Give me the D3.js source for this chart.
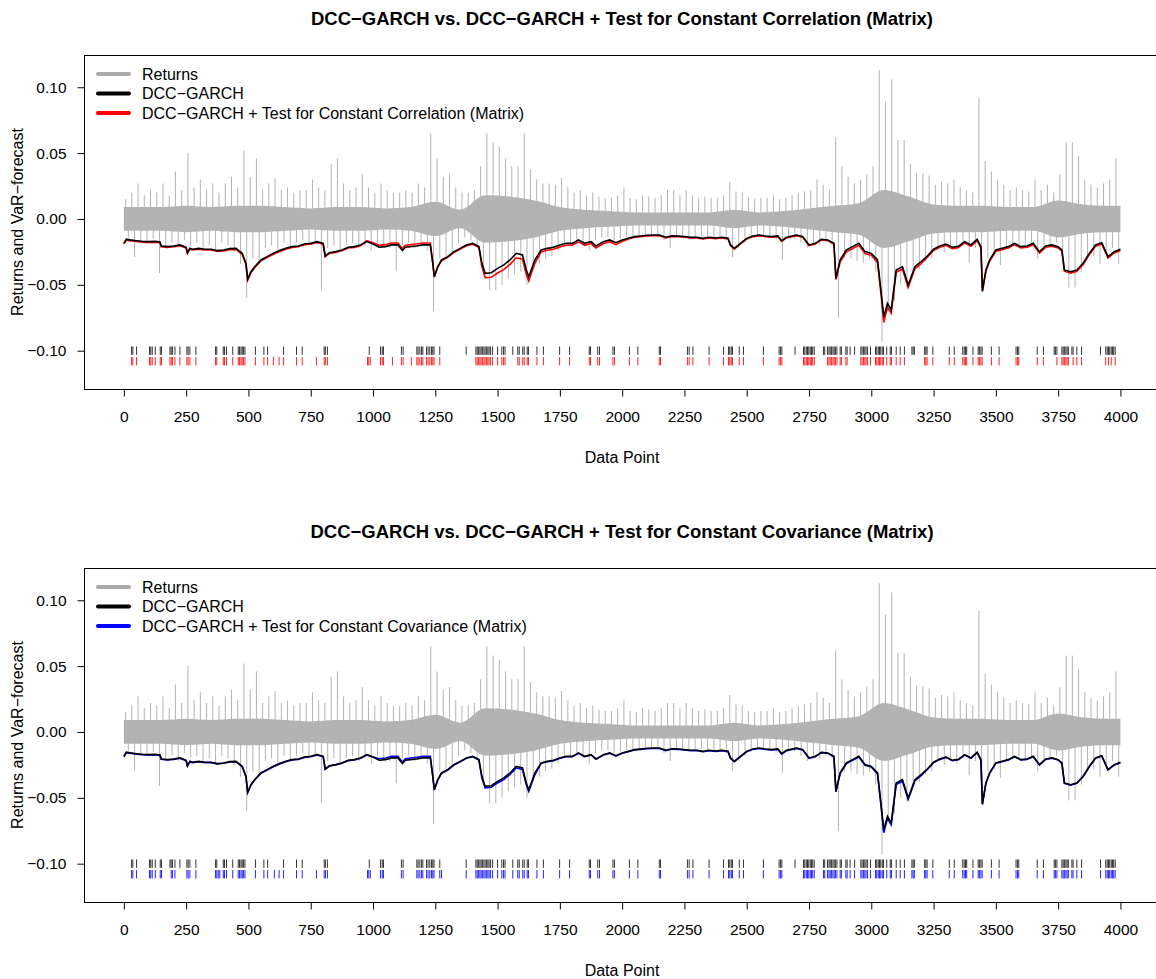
<!DOCTYPE html>
<html>
<head>
<meta charset="utf-8">
<script src="https://cdn.jsdelivr.net/npm/d3@7"></script>
<style>
  body { margin: 0; background: #fff; }
  svg { display: block; font-family: 'Liberation Sans', Arial, Helvetica, sans-serif; }
</style>
</head>
<body>
<svg id="chart" width="1156" height="979"></svg>
<script>
'use strict';

/* ── axis ticks ───────────────────────────────────────── */
const X_TICKS = [0,250,500,750,1000,1250,1500,1750,2000,2250,2500,2750,3000,3250,3500,3750,4000];
const Y_TICKS = [-0.10,-0.05,0.00,0.05,0.10];

/* ── returns: high / low per bin of 25 data points ────── */
const RET_BIN = 25;
const RET_HI = [
  .015,.020,.027,.018,.022,.020,.027,.018,.036,.022,
  .050,.024,.030,.022,.027,.020,.027,.032,.024,.052,
  .032,.046,.022,.027,.031,.022,.024,.020,.022,.022,
  .030,.024,.022,.042,.046,.027,.022,.024,.034,.024,
  .020,.027,.022,.020,.020,.022,.020,.027,.024,.065,
  .046,.032,.034,.024,.020,.020,.022,.040,.065,.058,
  .055,.046,.040,.040,.065,.038,.030,.027,.027,.026,
  .031,.024,.020,.022,.018,.020,.017,.016,.016,.018,
  .024,.016,.015,.018,.017,.016,.018,.022,
  .022,.018,.022,.018,.016,.017,.016,.016,.018,.028,.021,.020,
  .016,.015,.016,.016,.018,.015,.016,.018,.020,.021,
  .022,.030,.026,.022,.062,.040,.032,.027,.030,.034,
  .040,.113,.089,.106,.060,.060,.042,.035,.035,.033,
  .026,.028,.027,.030,.024,.022,.020,.092,.044,.036,
  .030,.026,.022,.024,.022,.021,.030,.022,.026,.020,
  .034,.058,.058,.048,.030,.026,.024,.027,.030,.046
];
const RET_LO = [
  -.014,-.029,-.016,-.018,-.015,-.041,-.020,-.018,-.022,-.016,
  -.020,-.018,-.022,-.020,-.024,-.018,-.020,-.025,-.034,-.060,
  -.030,-.034,-.022,-.020,-.024,-.018,-.022,-.018,-.016,-.018,
  -.018,-.054,-.022,-.020,-.024,-.020,-.018,-.022,-.020,-.024,
  -.018,-.020,-.022,-.039,-.020,-.018,-.022,-.020,-.024,-.070,
  -.030,-.028,-.026,-.018,-.014,-.016,-.020,-.040,-.054,-.054,
  -.050,-.045,-.042,-.040,-.050,-.035,-.034,-.030,-.028,-.024,
  -.020,-.018,-.018,-.020,-.024,-.016,-.014,-.014,-.016,-.015,
  -.014,-.013,-.014,-.013,-.012,-.014,-.016,-.022,
  -.013,-.014,-.015,-.014,-.013,-.014,-.015,-.014,-.016,-.029,-.022,-.018,
  -.013,-.012,-.013,-.014,-.016,-.031,-.014,-.015,-.018,-.022,
  -.020,-.020,-.018,-.020,-.075,-.030,-.030,-.032,-.033,-.030,
  -.040,-.093,-.065,-.062,-.050,-.052,-.040,-.038,-.032,-.030,
  -.022,-.025,-.020,-.024,-.020,-.033,-.022,-.045,-.030,-.028,
  -.035,-.022,-.020,-.020,-.022,-.020,-.030,-.022,-.020,-.018,
  -.030,-.052,-.052,-.040,-.030,-.028,-.034,-.026,-.022,-.034
];
/* dense core of the returns, half-width per 100 data points */
const CORE_BIN = 100;
const RET_CORE = [
  .009,.009,.010,.009,.010,.010,.009,.008,.009,.009,
  .008,.009,.013,.007,.018,.017,.014,.009,.007,.006,
  .005,.005,.005,.005,.007,.005,.006,.008,.010,.012,
  .022,.017,.011,.010,.010,.009,.009,.014,.011,.010
];

/* ── VaR forecasts ────────────────────────────────────── */
const VAR_X = [
  0,10,25,50,75,100,125,145,150,175,200,225,250,255,265,275,300,325,350,375,
  400,425,450,475,490,497,510,525,550,575,600,625,650,675,700,725,750,775,800,808,
  825,850,875,900,925,950,975,1000,
  1025,1050,1075,1100,1118,1130,1150,1175,1200,1230,1240,1246,1260,
  1275,1300,1325,1350,1375,1400,1425,
  1437,1450,1475,1500,1525,1550,1575,1600,1615,1625,1650,
  1675,1700,1725,1750,1775,1800,1825,1850,1875,1895,1925,1950,1975,2000,
  2025,2050,2075,2100,2125,2150,2175,2200,
  2225,2250,2275,2300,2325,2350,2375,2400,2425,2435,2450,2475,2500,2525,2550,2575,
  2600,2625,2640,2660,2700,2725,2750,2775,2800,2825,2850,
  2858,2875,2900,2925,2950,2975,3000,3025,3040,3050,3065,3080,3090,3100,3125,3148,3175,3200,
  3225,3250,3275,3300,3325,3350,3375,3400,3425,3440,3446,3460,3475,3500,3525,3550,3575,
  3600,3625,3650,3675,3700,3725,3750,3765,3775,3800,3825,3850,3875,3900,3925,3950,3975,4000
];
const VAR_DCC = [
  -0.0185,-0.0154,-0.0159,-0.0165,-0.0170,-0.0172,-0.0170,-0.0175,-0.0205,-0.0210,
  -0.0205,-0.0197,-0.0215,-0.0256,-0.0223,-0.0230,-0.0223,-0.0230,-0.0230,-0.0240,
  -0.0235,-0.0225,-0.0223,-0.0261,-0.0337,-0.0457,-0.0400,-0.0362,-0.0311,-0.0286,
  -0.0261,-0.0240,-0.0223,-0.0210,-0.0205,-0.0190,-0.0185,-0.0172,-0.0185,-0.0281,
  -0.0256,-0.0248,-0.0235,-0.0215,-0.0210,-0.0197,-0.0172,-0.0190,
  -0.0215,-0.0210,-0.0197,-0.0197,-0.0240,-0.0215,-0.0210,-0.0205,-0.0197,-0.0197,
  -0.0337,-0.0438,-0.0362,
  -0.0311,-0.0286,-0.0248,-0.0223,-0.0197,-0.0185,-0.0210,
  -0.0337,-0.0413,-0.0408,-0.0375,-0.0349,-0.0311,-0.0261,-0.0273,-0.0387,-0.0438,-0.0311,
  -0.0235,-0.0223,-0.0215,-0.0197,-0.0185,-0.0185,-0.0159,-0.0185,-0.0172,-0.0205,-0.0172,-0.0159,-0.0180,-0.0159,
  -0.0147,-0.0134,-0.0129,-0.0124,-0.0122,-0.0122,-0.0139,-0.0127,
  -0.0129,-0.0134,-0.0139,-0.0139,-0.0147,-0.0139,-0.0144,-0.0139,-0.0147,-0.0197,-0.0223,-0.0185,
  -0.0147,-0.0129,-0.0122,-0.0129,-0.0134,-0.0129,-0.0165,-0.0139,-0.0122,-0.0134,-0.0197,-0.0185,
  -0.0154,-0.0159,-0.0185,
  -0.0450,-0.0311,-0.0235,-0.0210,-0.0185,-0.0248,-0.0261,-0.0311,-0.0564,-0.0742,-0.0640,-0.0691,
  -0.0539,-0.0387,-0.0362,-0.0501,-0.0362,-0.0324,
  -0.0281,-0.0230,-0.0205,-0.0190,-0.0215,-0.0207,-0.0172,-0.0197,-0.0154,-0.0210,-0.0547,-0.0387,
  -0.0311,-0.0235,-0.0223,-0.0210,-0.0185,-0.0210,-0.0205,-0.0185,-0.0248,-0.0205,-0.0197,-0.0210,
  -0.0235,-0.0387,-0.0400,-0.0387,-0.0337,-0.0261,-0.0197,-0.0180,-0.0286,-0.0248,-0.0230
];
const VAR_CORR = [
  -0.0190,-0.0160,-0.0165,-0.0171,-0.0176,-0.0178,-0.0176,-0.0181,-0.0211,-0.0216,
  -0.0211,-0.0203,-0.0221,-0.0262,-0.0229,-0.0236,-0.0229,-0.0236,-0.0236,-0.0247,
  -0.0243,-0.0233,-0.0231,-0.0270,-0.0345,-0.0465,-0.0408,-0.0370,-0.0318,-0.0293,
  -0.0268,-0.0247,-0.0229,-0.0216,-0.0211,-0.0196,-0.0191,-0.0178,-0.0191,-0.0287,
  -0.0262,-0.0254,-0.0241,-0.0221,-0.0216,-0.0203,-0.0165,-0.0180,
  -0.0200,-0.0195,-0.0182,-0.0182,-0.0225,-0.0200,-0.0195,-0.0190,-0.0182,-0.0182,
  -0.0337,-0.0440,-0.0365,
  -0.0317,-0.0292,-0.0254,-0.0229,-0.0203,-0.0191,-0.0216,
  -0.0360,-0.0445,-0.0443,-0.0410,-0.0385,-0.0345,-0.0295,-0.0305,-0.0420,-0.0470,-0.0335,
  -0.0250,-0.0238,-0.0230,-0.0212,-0.0200,-0.0200,-0.0174,-0.0200,-0.0187,-0.0220,-0.0187,-0.0174,-0.0195,-0.0172,
  -0.0152,-0.0139,-0.0134,-0.0129,-0.0127,-0.0127,-0.0144,-0.0132,
  -0.0134,-0.0139,-0.0144,-0.0144,-0.0152,-0.0144,-0.0149,-0.0144,-0.0152,-0.0202,-0.0230,-0.0190,
  -0.0152,-0.0134,-0.0127,-0.0134,-0.0139,-0.0134,-0.0170,-0.0144,-0.0127,-0.0139,-0.0202,-0.0190,
  -0.0159,-0.0164,-0.0190,
  -0.0460,-0.0326,-0.0250,-0.0225,-0.0200,-0.0263,-0.0276,-0.0330,-0.0590,-0.0785,-0.0670,-0.0715,
  -0.0560,-0.0405,-0.0380,-0.0520,-0.0378,-0.0340,
  -0.0291,-0.0240,-0.0215,-0.0200,-0.0225,-0.0217,-0.0182,-0.0207,-0.0164,-0.0220,-0.0550,-0.0397,
  -0.0321,-0.0245,-0.0233,-0.0220,-0.0195,-0.0220,-0.0215,-0.0195,-0.0258,-0.0215,-0.0207,-0.0220,
  -0.0245,-0.0397,-0.0412,-0.0397,-0.0347,-0.0271,-0.0207,-0.0190,-0.0296,-0.0258,-0.0240
];
const VAR_COV = [
  -0.0188,-0.0157,-0.0162,-0.0168,-0.0173,-0.0175,-0.0173,-0.0178,-0.0208,-0.0213,
  -0.0208,-0.0200,-0.0218,-0.0259,-0.0226,-0.0233,-0.0226,-0.0233,-0.0233,-0.0243,
  -0.0238,-0.0228,-0.0226,-0.0264,-0.0340,-0.0460,-0.0403,-0.0365,-0.0314,-0.0289,
  -0.0264,-0.0243,-0.0226,-0.0213,-0.0208,-0.0193,-0.0188,-0.0175,-0.0188,-0.0284,
  -0.0259,-0.0251,-0.0238,-0.0218,-0.0213,-0.0200,-0.0175,-0.0190,
  -0.0203,-0.0198,-0.0185,-0.0185,-0.0228,-0.0203,-0.0198,-0.0193,-0.0185,-0.0185,
  -0.0337,-0.0441,-0.0365,
  -0.0314,-0.0289,-0.0251,-0.0226,-0.0200,-0.0188,-0.0213,
  -0.0349,-0.0425,-0.0420,-0.0387,-0.0361,-0.0323,-0.0273,-0.0285,-0.0399,-0.0452,-0.0323,
  -0.0238,-0.0226,-0.0218,-0.0200,-0.0188,-0.0188,-0.0162,-0.0188,-0.0175,-0.0208,-0.0175,-0.0162,-0.0183,-0.0162,
  -0.0150,-0.0137,-0.0132,-0.0127,-0.0125,-0.0125,-0.0142,-0.0130,
  -0.0132,-0.0137,-0.0142,-0.0142,-0.0150,-0.0142,-0.0147,-0.0142,-0.0150,-0.0200,-0.0226,-0.0188,
  -0.0150,-0.0132,-0.0125,-0.0132,-0.0137,-0.0132,-0.0168,-0.0142,-0.0125,-0.0137,-0.0200,-0.0188,
  -0.0157,-0.0162,-0.0188,
  -0.0455,-0.0316,-0.0240,-0.0215,-0.0190,-0.0253,-0.0266,-0.0318,-0.0578,-0.0765,-0.0655,-0.0705,
  -0.0552,-0.0399,-0.0374,-0.0513,-0.0372,-0.0332,
  -0.0284,-0.0233,-0.0208,-0.0193,-0.0218,-0.0210,-0.0175,-0.0200,-0.0157,-0.0213,-0.0550,-0.0390,
  -0.0314,-0.0238,-0.0226,-0.0213,-0.0188,-0.0213,-0.0208,-0.0188,-0.0251,-0.0208,-0.0200,-0.0213,
  -0.0238,-0.0390,-0.0403,-0.0390,-0.0340,-0.0264,-0.0200,-0.0183,-0.0289,-0.0251,-0.0233
];

/* ── VaR violations (data points) ─────────────────────── */
const HIT_LEVEL_DCC = -0.100;
const HIT_LEVEL_ALT = -0.108;
const HIT_DCC = [
  31,36,51,103,108,114,126,146,151,185,190,195,205,225,253,258,265,289,368,373,399,404,412,437,
  459,464,470,475,480,486,528,562,577,641,693,716,804,809,817,985,1030,1037,1042,1114,1121,
  1176,1181,1188,1195,1200,1215,1221,1228,1235,1240,1245,1268,
  1374,1413,1418,1423,1429,1434,1439,1445,1450,1456,1461,1466,1472,1480,1500,1517,1524,1530,1561,
  1581,1587,1601,1607,1619,1624,1658,1684,1749,1789,1868,1873,1902,1909,1963,1969,2029,2063,
  2149,2154,2262,2269,2284,2349,2407,2427,2432,2438,2443,2470,2487,2567,2630,2636,2641,
  2694,2728,2733,2739,2744,2749,2755,2760,2765,2771,2808,2813,2824,2830,2835,2840,2846,2851,2856,
  2862,2875,2880,2898,2903,2915,2933,2958,2963,2969,2974,2979,2985,2997,3017,3022,3028,3033,3038,
  3044,3049,3062,3076,3081,3100,3116,3133,3163,3168,3173,3214,3219,3224,3247,3313,3333,3367,3373,
  3378,3383,3408,3429,3434,3440,3445,3482,3513,3581,3587,3592,3666,3691,3734,3739,3745,3765,3770,
  3775,3781,3786,3791,3805,3810,3825,3844,3920,3941,3947,3952,3957,3963,3968,3973,3979
];
const HIT_CORR = [
  31,36,51,103,108,114,126,146,151,185,190,195,205,225,253,258,265,289,368,373,399,404,412,437,
  459,464,470,475,480,486,528,562,577,600,623,641,693,716,773,804,809,817,978,983,989,1030,1037,
  1042,1078,1114,1121,1154,1176,1181,1188,1195,1200,1215,1221,1228,1235,1240,1245,1268,
  1413,1418,1423,1429,1434,1439,1445,1450,1456,1461,1466,1472,1480,1500,1517,1524,1530,1581,1587,
  1601,1607,1619,1624,1658,1684,1749,1789,1868,1873,1902,1909,1963,1969,2029,2063,2149,2154,2262,
  2269,2284,2349,2407,2427,2432,2438,2443,2470,2487,2567,2630,2636,2641,
  2728,2733,2739,2744,2749,2755,2760,2765,2771,2824,2830,2835,2840,2846,2851,2856,2862,2875,2880,
  2898,2903,2958,2963,2969,2974,2979,2985,2997,3017,3022,3028,3033,3038,3044,3049,3062,3076,3081,
  3100,3116,3133,3214,3219,3224,3247,3313,3333,3367,3373,3378,3383,3408,3429,3434,3440,3445,3482,
  3513,3581,3587,3592,3666,3691,3745,3765,3770,3775,3781,3786,3791,3810,3825,3844,3941,3952,3963,3979
];
const HIT_COV = [
  31,36,51,103,108,114,126,146,151,190,195,205,253,258,265,289,368,373,379,385,399,404,412,437,
  459,464,470,475,480,486,528,562,577,604,623,641,693,716,773,804,809,817,978,983,989,1030,1037,
  1042,1114,1121,1176,1181,1188,1195,1200,1215,1221,1228,1235,1240,1245,1268,1275,
  1374,1413,1418,1423,1429,1434,1439,1445,1450,1456,1461,1466,1472,1480,1500,1517,1524,1530,1561,
  1581,1587,1601,1607,1619,1624,1658,1684,1749,1789,1868,1873,1902,1909,1963,1969,2029,2063,
  2149,2154,2262,2269,2284,2349,2407,2427,2432,2438,2443,2470,2487,2567,2630,2636,2641,
  2728,2733,2739,2744,2749,2755,2760,2765,2771,2808,2813,2824,2830,2835,2840,2846,2851,2856,
  2862,2875,2880,2898,2903,2915,2933,2958,2963,2969,2974,2979,2985,2997,3017,3022,3028,3033,3038,
  3044,3049,3062,3076,3081,3100,3116,3133,3163,3168,3173,3214,3219,3224,3247,3313,3333,3367,3373,
  3378,3383,3408,3429,3434,3440,3445,3482,3513,3581,3587,3592,3666,3691,3734,3739,3745,3765,3770,
  3775,3781,3786,3791,3805,3810,3825,3844,3920,3941,3947,3952,3957,3963,3968,3973,3979
];

/* ── panels ───────────────────────────────────────────── */
const PANELS = [
  { top: 0,   title: 'DCC\u2212GARCH vs. DCC\u2212GARCH + Test for Constant Correlation (Matrix)',
    label: 'DCC\u2212GARCH + Test for Constant Correlation (Matrix)', color: '#ff0000',
    alt: VAR_CORR, hits: HIT_CORR },
  { top: 513, title: 'DCC\u2212GARCH vs. DCC\u2212GARCH + Test for Constant Covariance (Matrix)',
    label: 'DCC\u2212GARCH + Test for Constant Covariance (Matrix)', color: '#0000ff',
    alt: VAR_COV, hits: HIT_COV }
];

const GREY = '#b3b3b3';
const FONT = "'Liberation Sans', Arial, sans-serif";
const svg = d3.select('#chart');

function drawPanel(p, idx){

  const x = d3.scaleLinear().domain([-160, 4160]).range([84, 1160.3]);
  const y = d3.scaleLinear().domain([-0.1291, 0.1245]).range([389 + p.top, 55 + p.top]);

  const g = svg.append('g');

  g.append('clipPath').attr('id', 'clip' + idx)
    .append('rect')
    .attr('x', x.range()[0]).attr('y', y.range()[1])
    .attr('width', x.range()[1] - x.range()[0])
    .attr('height', y.range()[0] - y.range()[1]);

  const plot = g.append('g').attr('clip-path', `url(#clip${idx})`);

  // returns: dense core
  const core = RET_CORE.map((c, i) => ({ d: i * CORE_BIN + CORE_BIN / 2, c }));
  core.unshift({ d: 0, c: RET_CORE[0] });
  core.push({ d: 4000, c: RET_CORE[RET_CORE.length - 1] });
  plot.append('path')
    .datum(core)
    .attr('fill', GREY)
    .attr('d', d3.area().curve(d3.curveMonotoneX)
      .x(d => x(d.d)).y0(d => y(-d.c)).y1(d => y(d.c)));

  // returns: extremes per bin, drawn as vertical strokes
  const spikes = [];
  RET_HI.forEach((h, i) => {
    spikes.push({ d: i * RET_BIN + 7, v: h });
    spikes.push({ d: i * RET_BIN + 18, v: RET_LO[i] });
  });
  plot.append('g').selectAll('line').data(spikes).enter().append('line')
    .attr('x1', d => x(d.d)).attr('x2', d => x(d.d))
    .attr('y1', y(0)).attr('y2', d => y(d.v))
    .attr('stroke', GREY).attr('stroke-width', 1);

  // VaR lines (alternative under, DCC on top)
  const varLine = vals => d3.line().x((d, i) => x(VAR_X[i])).y(d => y(d))(vals);
  plot.append('path')
    .attr('fill', 'none').attr('stroke', p.color).attr('stroke-width', 1.6)
    .attr('d', varLine(p.alt));
  plot.append('path')
    .attr('fill', 'none').attr('stroke', '#000').attr('stroke-width', 1.6)
    .attr('d', varLine(VAR_DCC));

  // violations
  const hitRow = (data, level, color, op) => {
    g.append('g').selectAll('line').data(data).enter().append('line')
      .attr('x1', d => x(d)).attr('x2', d => x(d))
      .attr('y1', y(level) - 4.2).attr('y2', y(level) + 4.2)
      .attr('stroke', color).attr('stroke-opacity', op).attr('stroke-width', 1);
  };
  hitRow(HIT_DCC, HIT_LEVEL_DCC, '#000', 0.8);
  hitRow(p.hits, HIT_LEVEL_ALT, p.color, 0.85);

  // box
  g.append('rect')
    .attr('x', 84.5).attr('y', y.range()[1] + 0.5)
    .attr('width', x.range()[1] - 84.5).attr('height', y.range()[0] - y.range()[1])
    .attr('fill', 'none').attr('stroke', '#000').attr('stroke-width', 1);

  // axes
  const fmtY = v => (v < 0 ? '\u2212' : '') + Math.abs(v).toFixed(2);
  const ax = g.append('g').attr('transform', `translate(0,${y.range()[0] + 0.5})`)
    .call(d3.axisBottom(x).tickValues(X_TICKS).tickSize(7).tickPadding(14).tickFormat(d3.format('d')));
  const ay = g.append('g').attr('transform', 'translate(84.5,0)')
    .call(d3.axisLeft(y).tickValues(Y_TICKS).tickSize(7).tickPadding(11).tickFormat(fmtY));
  [ax, ay].forEach(a => {
    a.select('.domain').remove();
    a.selectAll('.tick line').attr('stroke', '#000');
    a.selectAll('text').attr('font-size', 15.5).attr('fill', '#000').attr('font-family', FONT);
  });

  // titles
  g.append('text')
    .attr('x', 622).attr('y', 18 + p.top).attr('dy', '0.36em')
    .attr('text-anchor', 'middle').attr('font-size', 18.5).attr('font-weight', 'bold')
    .text(p.title);
  g.append('text')
    .attr('x', 622).attr('y', 457 + p.top).attr('dy', '0.36em')
    .attr('text-anchor', 'middle').attr('font-size', 16)
    .text('Data Point');
  g.append('text')
    .attr('transform', `translate(17,${222 + p.top}) rotate(-90)`).attr('dy', '0.36em')
    .attr('text-anchor', 'middle').attr('font-size', 16)
    .text('Returns and VaR\u2212forecast');

  // legend
  const items = [
    { label: 'Returns', color: '#aaaaaa' },
    { label: 'DCC\u2212GARCH', color: '#000' },
    { label: p.label, color: p.color }
  ];
  const lg = g.append('g');
  items.forEach((it, i) => {
    const ly = 74 + i * 19.5 + p.top;
    lg.append('line').attr('x1', 98).attr('x2', 129).attr('y1', ly).attr('y2', ly)
      .attr('stroke', it.color).attr('stroke-width', 4).attr('stroke-linecap', 'round');
    lg.append('text').attr('x', 142).attr('y', ly).attr('dy', '0.36em')
      .attr('font-size', 16).text(it.label);
  });
}

PANELS.forEach(drawPanel);
</script>
</body>
</html>
